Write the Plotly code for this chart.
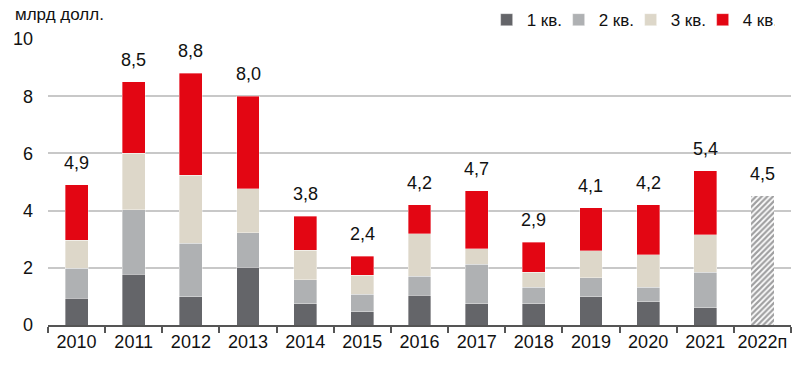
import plotly.graph_objects as go

years = ["2010", "2011", "2012", "2013", "2014", "2015", "2016", "2017", "2018", "2019", "2020", "2021", "2022п"]
q1 = [0.94, 1.78, 0.98, 2.02, 0.74, 0.47, 1.04, 0.74, 0.74, 0.98, 0.81, 0.60, None]
q2 = [1.05, 2.25, 1.87, 1.21, 0.84, 0.61, 0.67, 1.38, 0.58, 0.67, 0.51, 1.25, None]
q3 = [0.97, 1.97, 2.39, 1.54, 1.04, 0.66, 1.48, 0.54, 0.52, 0.94, 1.13, 1.31, None]
q4 = [1.94, 2.50, 3.56, 3.23, 1.18, 0.66, 1.01, 2.04, 1.06, 1.51, 1.75, 2.24, None]
forecast = [None] * 12 + [4.5]
totals = [4.9, 8.5, 8.8, 8.0, 3.8, 2.4, 4.2, 4.7, 2.9, 4.1, 4.2, 5.4, 4.5]

series = [("1 кв.", q1, "#646569"), ("2 кв.", q2, "#afb1b3"),
          ("3 кв.", q3, "#ddd7c9"), ("4 кв.", q4, "#e30613")]

FONT = "Liberation Sans, Arial, sans-serif"
fig = go.Figure()
for name, vals, col in series:
    fig.add_trace(go.Bar(x=years, y=vals, name=name,
                         marker=dict(color=col, line=dict(color="rgba(255,255,255,0.6)", width=0.6))))
fig.add_trace(go.Bar(x=years, y=forecast, name="прогноз", showlegend=False,
                     marker=dict(color="white", line=dict(width=0),
                                 pattern=dict(shape="/", fgcolor="#3f3f42", bgcolor="white", size=4, solidity=0.55))))

for i in range(len(years)):
    stack = sum(v[i] for _, v, _ in series if v[i] is not None) if forecast[i] is None else forecast[i]
    fig.add_annotation(x=i, y=stack, text=f"{totals[i]:.1f}".replace(".", ","), showarrow=False,
                       yanchor="bottom", yshift=10, font=dict(size=18, color="#111111", family=FONT))

fig.add_annotation(xref="paper", yref="paper", x=-0.047, y=1.084, xanchor="left", yanchor="middle",
                   text="млрд долл.", showarrow=False, font=dict(size=17, color="#111111", family=FONT))

fig.update_layout(
    barmode="stack", bargap=0.6,
    width=800, height=372,
    margin=dict(l=40, r=17, t=31, b=55, autoexpand=False),
    plot_bgcolor="white", paper_bgcolor="white",
    font=dict(family=FONT, size=17, color="#111111"),
    legend=dict(orientation="h", x=0.978, xanchor="right", y=1.066, yanchor="middle", traceorder="normal",
                font=dict(size=17), itemwidth=30, entrywidth=27, entrywidthmode="pixels",
                tracegroupgap=0, bgcolor="rgba(0,0,0,0)"),
    xaxis=dict(type="category", range=[-0.5, len(years) - 0.5], showline=True, linecolor="#555555",
               linewidth=1.5, ticks="outside", tickson="boundaries", tickangle=0, automargin=False,
               ticklen=6, tickcolor="#555555", tickwidth=1.5, tickfont=dict(size=18), showgrid=False),
    yaxis=dict(range=[0, 10], dtick=2, showgrid=True, gridcolor="#c8c8c8", gridwidth=1.5, automargin=False,
               zeroline=False, showline=False, tickfont=dict(size=18), ticklabelstandoff=14),
)
fig.write_html("out.html")
